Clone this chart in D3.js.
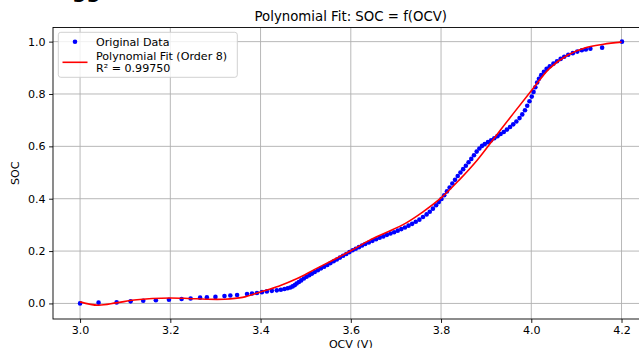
<!DOCTYPE html>
<html>

<head>
    <script src="https://d3js.org/d3.v7.min.js"></script>
    <title>Polynomial Fit: SOC = f(OCV)</title>
    <meta charset="utf-8" />
    <style>
        body { margin: 0; background: #fff; }
        text { font-family: "DejaVu Sans", sans-serif; fill: #000; }
    </style>
</head>

<body>
    <div id="chart"></div>

    <script>
        // measured data points (OCV in volts, SOC as fraction)
        const ocv = [3.000, 3.041, 3.081, 3.112, 3.140, 3.168, 3.197, 3.225, 3.245, 3.266,
            3.281, 3.300, 3.320, 3.333, 3.348, 3.370, 3.381, 3.392, 3.403, 3.414,
            3.425, 3.436, 3.445, 3.453, 3.460, 3.466, 3.471, 3.476, 3.480, 3.485,
            3.490, 3.496, 3.502, 3.508, 3.514, 3.520, 3.527, 3.534, 3.541, 3.548,
            3.555, 3.562, 3.569, 3.576, 3.583, 3.590, 3.597, 3.604, 3.611, 3.618,
            3.625, 3.632, 3.640, 3.648, 3.656, 3.664, 3.672, 3.680, 3.688, 3.696,
            3.704, 3.712, 3.720, 3.728, 3.736, 3.744, 3.752, 3.760, 3.768, 3.775,
            3.782, 3.789, 3.795, 3.801, 3.807, 3.813, 3.819, 3.825, 3.831, 3.837,
            3.843, 3.849, 3.855, 3.861, 3.867, 3.873, 3.879, 3.885, 3.891, 3.897,
            3.904, 3.911, 3.918, 3.925, 3.932, 3.939, 3.946, 3.953, 3.960, 3.967,
            3.974, 3.980, 3.986, 3.991, 3.996, 4.001, 4.005, 4.009, 4.013, 4.017,
            4.022, 4.028, 4.034, 4.041, 4.049, 4.057, 4.065, 4.073, 4.082, 4.092,
            4.102, 4.112, 4.121, 4.131, 4.157, 4.201];
        const soc = [0.000, 0.003, 0.004, 0.008, 0.010, 0.012, 0.014, 0.017, 0.019, 0.022,
            0.023, 0.025, 0.028, 0.030, 0.032, 0.036, 0.038, 0.040, 0.043, 0.046,
            0.048, 0.050, 0.052, 0.055, 0.058, 0.061, 0.065, 0.070, 0.076, 0.082,
            0.088, 0.095, 0.102, 0.108, 0.114, 0.120, 0.127, 0.134, 0.140, 0.147,
            0.154, 0.161, 0.168, 0.175, 0.182, 0.189, 0.196, 0.203, 0.209, 0.215,
            0.221, 0.227, 0.233, 0.239, 0.245, 0.251, 0.256, 0.262, 0.267, 0.272,
            0.278, 0.284, 0.290, 0.297, 0.304, 0.312, 0.320, 0.330, 0.340, 0.350,
            0.362, 0.375, 0.387, 0.399, 0.413, 0.428, 0.443, 0.458, 0.472, 0.487,
            0.500, 0.513, 0.526, 0.539, 0.552, 0.566, 0.580, 0.592, 0.602, 0.609,
            0.616, 0.623, 0.631, 0.639, 0.647, 0.655, 0.664, 0.674, 0.684, 0.695,
            0.708, 0.722, 0.738, 0.755, 0.772, 0.790, 0.808, 0.826, 0.844, 0.858,
            0.872, 0.885, 0.896, 0.906, 0.916, 0.925, 0.934, 0.942, 0.950, 0.956,
            0.962, 0.967, 0.970, 0.973, 0.977, 1.000];

        // fitted curve
        const fitOcv = [3.00, 3.04, 3.08, 3.12, 3.16, 3.20, 3.24, 3.28, 3.32, 3.36,
            3.40, 3.44, 3.48, 3.52, 3.56, 3.60, 3.64, 3.68, 3.72, 3.76,
            3.80, 3.84, 3.88, 3.92, 3.96, 4.00, 4.04, 4.08, 4.12, 4.16, 4.20];
        const fitSoc = [0.006, -0.007, 0.002, 0.013, 0.019, 0.021, 0.019, 0.016, 0.016, 0.023,
            0.044, 0.066, 0.094, 0.130, 0.165, 0.201, 0.240, 0.272, 0.305, 0.350,
            0.403, 0.471, 0.547, 0.636, 0.725, 0.812, 0.897, 0.948, 0.977, 0.990, 0.998];

        const xTicks = [3.0, 3.2, 3.4, 3.6, 3.8, 4.0, 4.2];
        const yTicks = [0.0, 0.2, 0.4, 0.6, 0.8, 1.0];

        const svgWidth = 639;
        const svgHeight = 348;
        const plot = { left: 53, right: 648.6, top: 27.5, bottom: 319 };

        const svg = d3.select("#chart")
            .append("svg")
            .attr("width", svgWidth)
            .attr("height", svgHeight);

        // scales
        const xScale = d3.scaleLinear()
            .domain([2.94, 4.26])
            .range([plot.left, plot.right]);

        const yScale = d3.scaleLinear()
            .domain([-0.0595, 1.054])
            .range([plot.bottom, plot.top]);

        // grid
        svg.append('g')
            .selectAll('line')
            .data(xTicks)
            .enter().append('line')
            .attr('x1', d => xScale(d)).attr('x2', d => xScale(d))
            .attr('y1', plot.top).attr('y2', plot.bottom)
            .attr('stroke', '#b0b0b0').attr('stroke-width', 0.9);

        svg.append('g')
            .selectAll('line')
            .data(yTicks)
            .enter().append('line')
            .attr('x1', plot.left).attr('x2', plot.right)
            .attr('y1', d => yScale(d)).attr('y2', d => yScale(d))
            .attr('stroke', '#b0b0b0').attr('stroke-width', 0.9);

        // fit line
        const line = d3.line()
            .x((d, i) => xScale(fitOcv[i]))
            .y(d => yScale(d))
            .curve(d3.curveCatmullRom.alpha(0.5));

        // points
        svg.append('g')
            .selectAll('circle')
            .data(soc)
            .enter().append('circle')
            .attr('cx', (d, i) => xScale(ocv[i]))
            .attr('cy', d => yScale(d))
            .attr('r', 2.3)
            .attr('fill', '#0000ff');

        svg.append('path')
            .datum(fitSoc)
            .attr('d', line)
            .attr('fill', 'none')
            .attr('stroke', '#ff0000')
            .attr('stroke-width', 1.6);

        // axes
        const xAxis = d3.axisBottom(xScale)
            .tickValues(xTicks)
            .tickFormat(d3.format('.1f'))
            .tickSize(3.9)
            .tickPadding(3.5)
            .tickSizeOuter(0);
        const gx = svg.append('g')
            .attr('transform', `translate(0, ${plot.bottom})`)
            .call(xAxis);

        const yAxis = d3.axisLeft(yScale)
            .tickValues(yTicks)
            .tickFormat(d3.format('.1f'))
            .tickSize(3.9)
            .tickPadding(3.5)
            .tickSizeOuter(0);
        const gy = svg.append('g')
            .attr('transform', `translate(${plot.left}, 0)`)
            .call(yAxis);

        [gx, gy].forEach(g => {
            g.select('.domain').remove();
            g.selectAll('line').attr('stroke', '#000').attr('stroke-width', 0.9);
            g.selectAll('text')
                .style('font-family', '"DejaVu Sans", sans-serif')
                .style('font-size', '11.1px')
                .attr('fill', '#000');
        });

        // spines
        svg.append('rect')
            .attr('x', plot.left).attr('y', plot.top)
            .attr('width', plot.right - plot.left)
            .attr('height', plot.bottom - plot.top)
            .attr('fill', 'none')
            .attr('stroke', '#000')
            .attr('stroke-width', 0.9);

        // labels
        svg.append('text')
            .attr('x', (plot.left + plot.right) / 2)
            .attr('y', 20.8)
            .attr('text-anchor', 'middle')
            .style('font-size', '13.3px')
            .text("Polynomial Fit: SOC = f(OCV)");

        svg.append('text')
            .attr('x', (plot.left + plot.right) / 2)
            .attr('y', 348.2)
            .attr('text-anchor', 'middle')
            .style('font-size', '11.1px')
            .text("OCV (V)");

        svg.append('text')
            .attr('transform', `translate(19, ${(plot.top + plot.bottom) / 2}) rotate(-90)`)
            .attr('text-anchor', 'middle')
            .style('font-size', '11.1px')
            .text("SOC");

        // clipped text from above the figure
        svg.append('text')
            .attr('x', 72)
            .attr('y', -1.8)
            .style('font-size', '20px')
            .style('font-weight', 'bold')
            .text("gg");

        // legend
        const legend = svg.append('g');
        legend.append('rect')
            .attr('x', 58.3).attr('y', 32.3)
            .attr('width', 179).attr('height', 45)
            .attr('rx', 2.5)
            .attr('fill', '#fff').attr('fill-opacity', 0.8)
            .attr('stroke', '#cccccc').attr('stroke-width', 0.9);
        legend.append('circle')
            .attr('cx', 75).attr('cy', 41.7).attr('r', 2.3)
            .attr('fill', '#0000ff');
        legend.append('text')
            .attr('x', 96).attr('y', 45.6)
            .style('font-size', '11.1px')
            .text("Original Data");
        legend.append('line')
            .attr('x1', 62.5).attr('x2', 87.5)
            .attr('y1', 62.3).attr('y2', 62.3)
            .attr('stroke', '#ff0000').attr('stroke-width', 1.6);
        legend.append('text')
            .attr('x', 96).attr('y', 60)
            .style('font-size', '11.1px')
            .text("Polynomial Fit (Order 8)");
        legend.append('text')
            .attr('x', 96).attr('y', 71.7)
            .style('font-size', '11.1px')
            .text("R² = 0.99750");
    </script>
</body>

</html>
